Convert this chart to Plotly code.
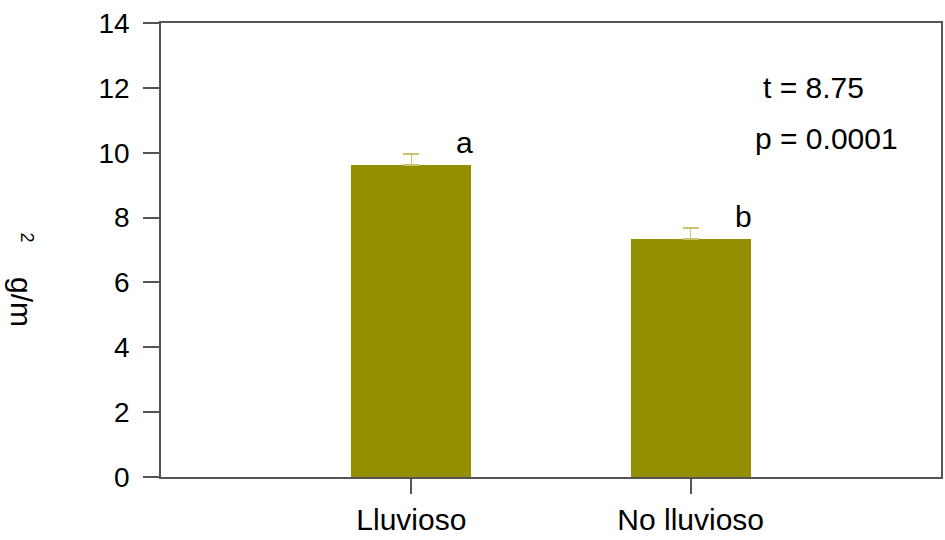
import plotly.graph_objects as go

# Biomass by season (g/m²), mean with upper error
categories = ["Lluvioso", "No lluvioso"]
means = [9.62, 7.34]
errors = [0.34, 0.34]
letters = ["a", "b"]
y_ticks = [0, 2, 4, 6, 8, 10, 12, 14]
stats_lines = ["t = 8.75", "p = 0.0001"]

FONT = "Liberation Sans, Arial, sans-serif"
FS = 30
BAR = "#948f00"
ERR = "#c9c26a"
AXIS = "#555555"

x_pos = list(range(len(categories)))

fig = go.Figure()
fig.add_trace(go.Bar(
    x=x_pos, y=means, width=0.43,
    marker=dict(color=BAR, line=dict(width=0)),
    error_y=dict(type="data", array=errors, arrayminus=[0, 0], symmetric=False,
                 color=ERR, thickness=1.5, width=8),
    showlegend=False,
))

# significance letters beside each bar
for xi, m, e, lab in zip(x_pos, means, errors, letters):
    fig.add_annotation(x=xi + 0.19, y=m + e, text=lab, showarrow=False,
                       xanchor="center", yanchor="bottom", yshift=-7,
                       font=dict(family=FONT, size=FS, color="black"))

# test statistics
fig.add_annotation(xref="paper", yref="paper", x=0.837, y=0.858, text=stats_lines[0],
                   showarrow=False, xanchor="center", yanchor="middle",
                   font=dict(family=FONT, size=FS, color="black"))
fig.add_annotation(xref="paper", yref="paper", x=0.853, y=0.745, text=stats_lines[1],
                   showarrow=False, xanchor="center", yanchor="middle",
                   font=dict(family=FONT, size=FS, color="black"))

# rotated y-axis title with the exponent set apart
fig.add_annotation(xref="paper", yref="paper", x=-0.178, y=0.385, text="g/m",
                   showarrow=False, textangle=90, xanchor="center", yanchor="middle",
                   font=dict(family=FONT, size=FS, color="black"))
fig.add_annotation(xref="paper", yref="paper", x=-0.172, y=0.528, text="2",
                   showarrow=False, textangle=90, xanchor="center", yanchor="middle",
                   font=dict(family=FONT, size=18, color="black"))

fig.update_layout(
    width=945, height=540,
    margin=dict(l=161, r=2, t=23, b=63),
    plot_bgcolor="white", paper_bgcolor="white",
    font=dict(family=FONT, size=FS, color="black"),
    xaxis=dict(
        range=[-0.896, 1.896], tickvals=x_pos, ticktext=categories,
        showline=True, linecolor=AXIS, linewidth=1.5, mirror=True,
        ticks="outside", ticklen=15, tickcolor=AXIS, tickwidth=1.5,
        showgrid=False, zeroline=False, fixedrange=True,
        tickfont=dict(family=FONT, size=FS, color="black"),
    ),
    yaxis=dict(
        range=[0, 14], tickvals=y_ticks,
        showline=True, linecolor=AXIS, linewidth=1.5, mirror=True,
        ticks="outside", ticklen=16, tickcolor=AXIS, tickwidth=1.5,
        ticklabelstandoff=8,
        showgrid=False, zeroline=False,
        tickfont=dict(family=FONT, size=28, color="black"),
    ),
    bargap=0,
)

fig.write_html("out.html")
